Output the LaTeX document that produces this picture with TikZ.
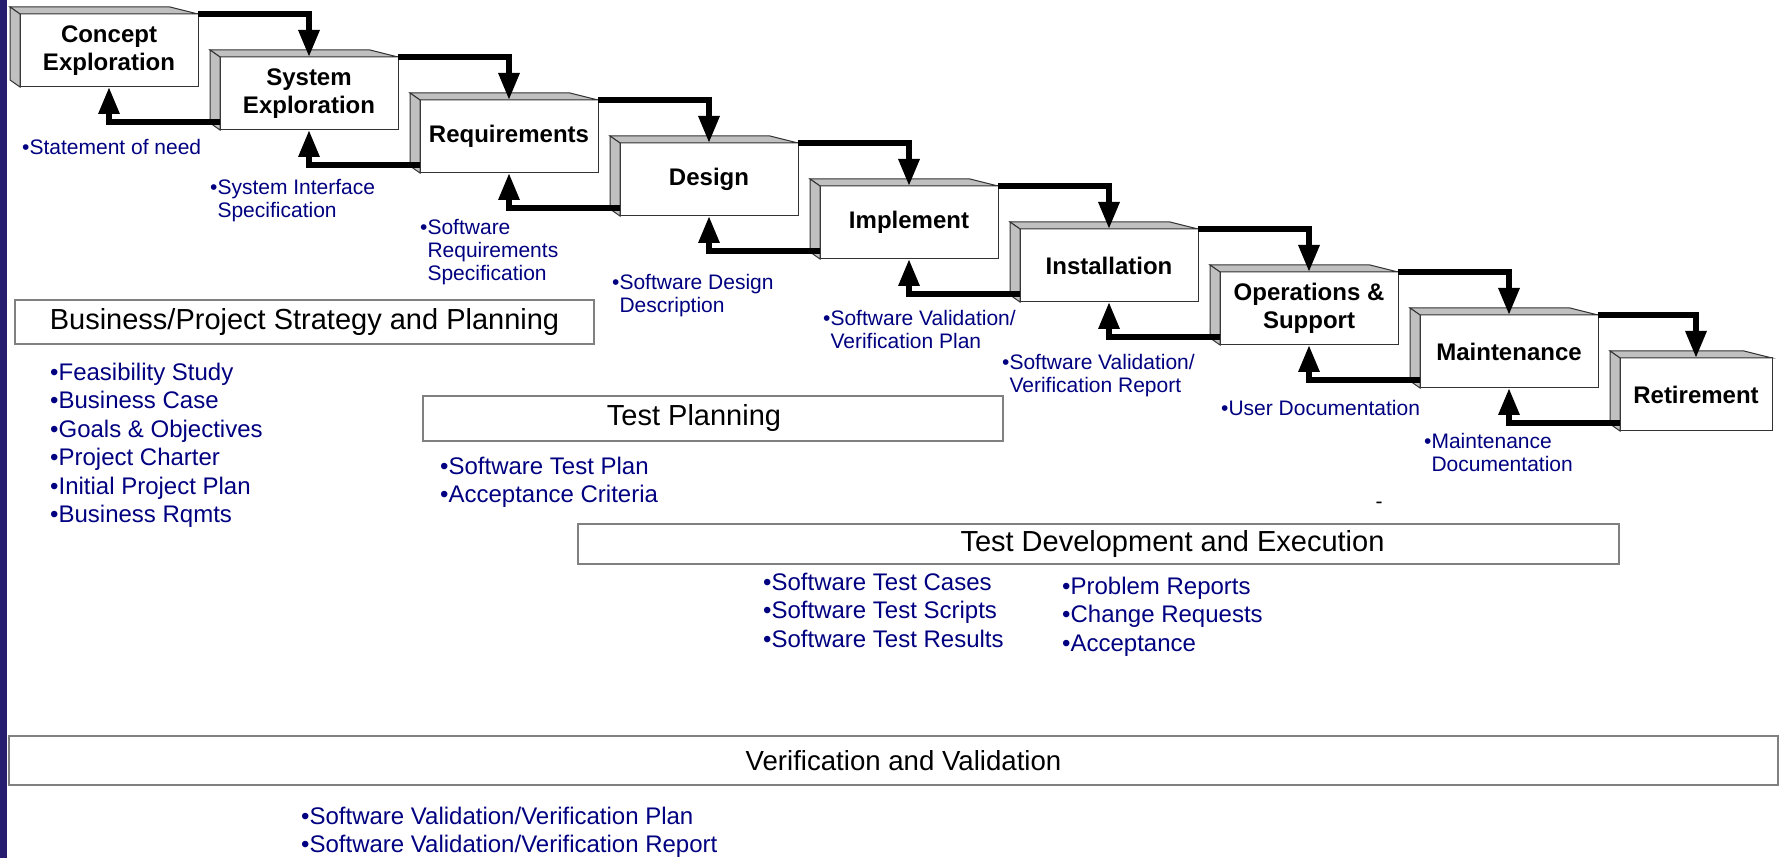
\documentclass[tikz,border=0pt]{standalone}
\usepackage{fontspec}
\setmainfont{Liberation Sans}
\usetikzlibrary{positioning, arrows.meta}
\definecolor{navyText}{RGB}{0, 0, 128}
\definecolor{edgeBar}{RGB}{38, 28, 112}
\definecolor{faceGray}{RGB}{192, 192, 192}
\definecolor{bandGray}{RGB}{128, 128, 128}

\begin{document}
\begin{tikzpicture}[
    x=1pt, y=-1pt,
    stage/.style={rectangle, draw=black!80, fill=white, line width=1pt, inner sep=0pt, outer sep=0pt,
      minimum width=178pt, minimum height=73pt, align=center, font=\fontsize{24}{28}\selectfont\bfseries},
    face/.style={draw=black!80, fill=faceGray, line width=1pt},
    flow/.style={-{Triangle[length=27pt, width=20pt]}, line width=6pt},
    band/.style={rectangle, draw=bandGray, line width=2pt, inner sep=0pt, outer sep=0pt, anchor=north west},
    bandtext/.style={inner sep=0pt, font=\fontsize{29}{34}\selectfont},
    note/.style={anchor=north west, inner sep=0pt, align=left, text=navyText, font=\fontsize{21}{23}\selectfont},
    items/.style={anchor=north west, inner sep=0pt, align=left, text=navyText, font=\fontsize{24}{28.4}\selectfont}
  ]
  \useasboundingbox (0,0) rectangle (1781,858);
  \fill[edgeBar] (0,0) rectangle (7,858);

  % life-cycle stages
  \node[stage, anchor=north west] (concept) at (20,14) {Concept\\Exploration};
  \node[stage, below right=-30pt and 22pt of concept] (sysexp) {System\\Exploration};
  \node[stage, below right=-30pt and 22pt of sysexp] (reqs) {Requirements};
  \node[stage, below right=-30pt and 22pt of reqs] (design) {Design};
  \node[stage, below right=-30pt and 22pt of design] (implement) {Implement};
  \node[stage, below right=-30pt and 22pt of implement] (install) {Installation};
  \node[stage, below right=-30pt and 22pt of install] (ops) {Operations \&\\Support};
  \node[stage, below right=-30pt and 22pt of ops] (maint) {Maintenance};
  \node[stage, minimum width=152pt, below right=-30pt and 22pt of maint] (retire) {Retirement};

  \foreach \n in {concept,sysexp,reqs,design,implement,install,ops,maint,retire} {
    \draw[face] (\n.north west) -- ++(-10,-7) -- ([shift={(-28,-7)}]\n.north east) -- (\n.north east) -- cycle;
    \draw[face] (\n.north west) -- ++(-10,-7) -- ([shift={(-10,-7)}]\n.south west) -- (\n.south west) -- cycle;
  }

  \foreach \a/\b in {concept/sysexp,sysexp/reqs,reqs/design,design/implement,implement/install,install/ops,ops/maint,maint/retire} {
    \draw[flow] (\a.north east) -| (\b.north);
    \draw[flow] ([yshift=8pt]\b.south west) -| (\a.south);
  }

  % stage outputs
  \node[note] (need) at (22,139) {•Statement of need};
  \node[note] (sysspec) at (210,179) {•System Interface\\\hphantom{•}Specification};
  \node[note] (srs) at (420,219) {•Software\\\hphantom{•}Requirements\\\hphantom{•}Specification};
  \node[note] (sdd) at (612,274) {•Software Design\\\hphantom{•}Description};
  \node[note] (vvplan) at (823,310) {•Software Validation/\\\hphantom{•}Verification Plan};
  \node[note] (vvreport) at (1002,354) {•Software Validation/\\\hphantom{•}Verification Report};
  \node[note] (userdoc) at (1221,400) {•User Documentation};
  \node[note] (maintdoc) at (1424,433) {•Maintenance\\\hphantom{•}Documentation};
  \node[inner sep=0pt, font=\fontsize{21}{23}\selectfont] (dash) at (1379,505) {-};

  % activity bands
  \node[band, bandtext, minimum width=579pt, minimum height=44pt] (bizband) at (15,300) {Business/Project Strategy and Planning};
  \node[band, minimum width=580pt, minimum height=45pt] (tpband) at (423,396) {};
  \node[bandtext] (tptext) at ([xshift=-19pt]tpband.center) {Test Planning};
  \node[band, minimum width=1041pt, minimum height=40pt] (tdband) at (578,524) {};
  \node[bandtext] (tdtext) at ([xshift=74pt]tdband.center) {Test Development and Execution};
  \node[band, minimum width=1769pt, minimum height=49pt] (vvband) at (9,736) {};
  \node[bandtext, font=\fontsize{27.6}{33}\selectfont] (vvtext) at ([xshift=10pt]vvband.center) {Verification and Validation};

  \node[items] (bizlist) at (50,363) {•Feasibility Study\\•Business Case\\•Goals \& Objectives\\•Project Charter\\•Initial Project Plan\\•Business Rqmts};
  \node[items] (tplist) at (440,457) {•Software Test Plan\\•Acceptance Criteria};
  \node[items] (tdlist) at (763,573) {•Software Test Cases\\•Software Test Scripts\\•Software Test Results};
  \node[items] (prlist) at (1062,577) {•Problem Reports\\•Change Requests\\•Acceptance};
  \node[items] (vvlist) at (301,807) {•Software Validation/Verification Plan\\•Software Validation/Verification Report};
\end{tikzpicture}
\end{document}
